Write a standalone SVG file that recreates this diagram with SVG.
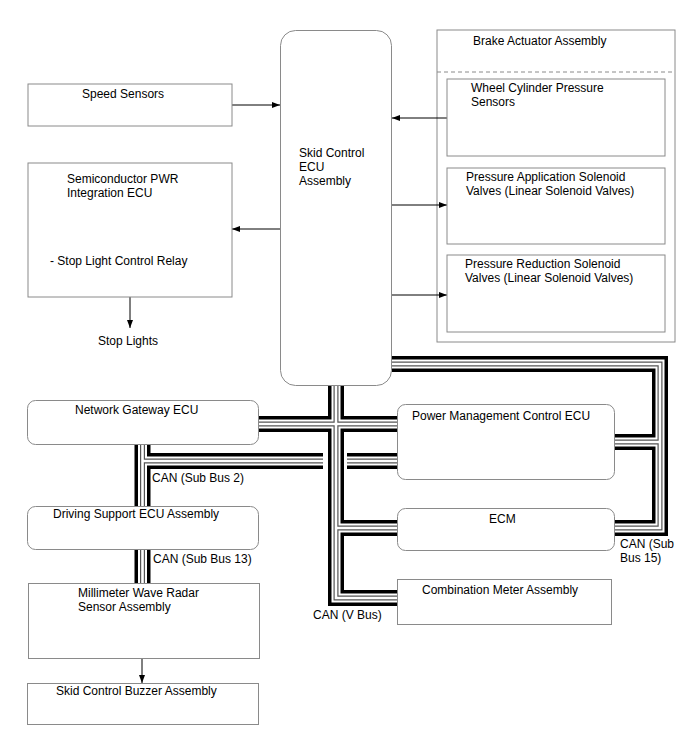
<svg xmlns="http://www.w3.org/2000/svg" width="688" height="755" viewBox="0 0 688 755">
<style>
.box{fill:#fff;stroke:#8a8a8a;stroke-width:1}
.t{font-family:"Liberation Sans",Arial,sans-serif;font-size:12px;fill:#000}
.arr{stroke:#000;stroke-width:1;fill:none;marker-end:url(#ah)}
.b1{fill:none;stroke:#000;stroke-width:16;stroke-linejoin:miter}
.b2{fill:none;stroke:#fff;stroke-width:9;stroke-linejoin:miter}
.b3{fill:none;stroke:#555;stroke-width:5;stroke-linejoin:miter}
.b4{fill:none;stroke:#fff;stroke-width:2.6;stroke-linejoin:miter}
</style>
<defs>
<marker id="ah" markerWidth="9" markerHeight="7" refX="8" refY="3" orient="auto" markerUnits="userSpaceOnUse">
<path d="M0,0 L8,3 L0,6 z" fill="#000"/>
</marker>
<g id="buspaths">
<path id="vbus" d="M336,386 V598 H397"/>
<path id="vecm" d="M336,528 H397"/>
<path id="cross" d="M259,424 H397"/>
<path id="sb2" d="M142.5,445 V507"/>
<path id="sb2a" d="M142.5,461 H323"/>
<path id="sb2b" d="M347,461 H397"/>
<path id="sb13" d="M142.5,550 V583"/>
<path id="sb15" d="M392,364 H660 V528 H615"/>
<path id="sb15pm" d="M660,442 H615"/>
</g>
</defs>
<rect width="688" height="755" fill="#fff"/>

<g id="brake-actuator">
<rect class="box" x="437" y="30" width="238" height="312"/>
<line x1="437" y1="72" x2="675" y2="72" stroke="#8a8a8a" stroke-width="1" stroke-dasharray="4,3"/>
<text class="t" x="473" y="45">Brake Actuator Assembly</text>
</g>

<g id="connectors">
<use href="#buspaths" class="b1"/>
<use href="#buspaths" class="b2"/>
<use href="#buspaths" class="b3"/>
<use href="#buspaths" class="b4"/>
<path class="arr" d="M232,105 H280"/>
<path class="arr" d="M280,229 H232"/>
<path class="arr" d="M130,297 V328"/>
<path class="arr" d="M447,118 H392"/>
<path class="arr" d="M392,205 H447"/>
<path class="arr" d="M392,295 H447"/>
<path class="arr" d="M142,659 V683"/>
</g>

<g id="wheel-cyl">
<rect class="box" x="447" y="79" width="218" height="77"/>
<text class="t" x="471" y="92">Wheel Cylinder Pressure</text>
<text class="t" x="471" y="106">Sensors</text>
</g>
<g id="press-app">
<rect class="box" x="447" y="168" width="218" height="76"/>
<text class="t" x="466" y="181">Pressure Application Solenoid</text>
<text class="t" x="466" y="195">Valves (Linear Solenoid Valves)</text>
</g>
<g id="press-red">
<rect class="box" x="447" y="255" width="218" height="77"/>
<text class="t" x="465" y="268">Pressure Reduction Solenoid</text>
<text class="t" x="465" y="282">Valves (Linear Solenoid Valves)</text>
</g>
<g id="skid-ecu">
<rect class="box" x="280.5" y="30.5" width="111" height="355" rx="15"/>
<text class="t" x="299" y="157">Skid Control</text>
<text class="t" x="299" y="171">ECU</text>
<text class="t" x="299" y="185">Assembly</text>
</g>
<g id="speed">
<rect class="box" x="28" y="84" width="204" height="42"/>
<text class="t" x="82" y="98">Speed Sensors</text>
</g>
<g id="semi">
<rect class="box" x="28" y="163" width="204" height="134"/>
<text class="t" x="67" y="183">Semiconductor PWR</text>
<text class="t" x="67" y="197">Integration ECU</text>
<text class="t" x="50" y="265">- Stop Light Control Relay</text>
</g>
<g id="stop-lights">
<text class="t" x="98" y="345">Stop Lights</text>
</g>
<g id="gateway">
<rect class="box" x="27.5" y="400.5" width="231" height="44" rx="8"/>
<text class="t" x="75" y="414">Network Gateway ECU</text>
</g>
<g id="pm-ecu">
<rect class="box" x="397.5" y="404.5" width="217" height="75" rx="8"/>
<text class="t" x="412" y="420">Power Management Control ECU</text>
</g>
<g id="ecm">
<rect class="box" x="397.5" y="508.5" width="217" height="42" rx="8"/>
<text class="t" x="489" y="523">ECM</text>
</g>
<g id="combo-meter">
<rect class="box" x="397.5" y="579.5" width="214" height="45"/>
<text class="t" x="422" y="594">Combination Meter Assembly</text>
</g>
<g id="driving-support">
<rect class="box" x="27.5" y="506.5" width="231" height="43" rx="8"/>
<text class="t" x="53" y="518">Driving Support ECU Assembly</text>
</g>
<g id="mmw-radar">
<rect class="box" x="28.5" y="583.5" width="231" height="75"/>
<text class="t" x="78" y="597">Millimeter Wave Radar</text>
<text class="t" x="78" y="611">Sensor Assembly</text>
</g>
<g id="buzzer">
<rect class="box" x="27.5" y="683.5" width="231" height="41"/>
<text class="t" x="56" y="695">Skid Control Buzzer Assembly</text>
</g>
<g id="labels">
<text class="t" x="152" y="482">CAN (Sub Bus 2)</text>
<text class="t" x="153" y="563">CAN (Sub Bus 13)</text>
<text class="t" x="620" y="548">CAN (Sub</text>
<text class="t" x="620" y="562">Bus 15)</text>
<text class="t" x="313" y="619">CAN (V Bus)</text>
</g>
</svg>
